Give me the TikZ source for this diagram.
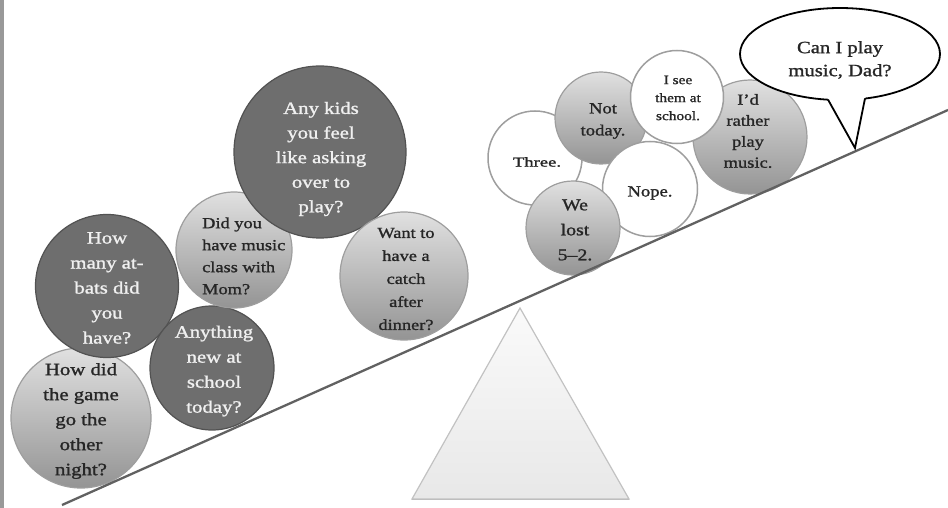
\documentclass[tikz,border=0pt]{standalone}
\usepackage{fontspec}
\setmainfont{Liberation Serif}[FakeStretch=1.2,FakeBold=1.3]
\usetikzlibrary{shapes.geometric}
\newcommand\fsz[2]{\fontsize{#1}{#2}\selectfont}
\tikzset{
  lightc/.style={circle, draw=black!38, line width=1.2pt, top color=black!12, bottom color=black!42, inner sep=0pt, minimum size=#1},
  darkc/.style={circle, draw=black!68, line width=1.2pt, fill=black!57, inner sep=0pt, minimum size=#1},
  whitec/.style={circle, draw=black!38, line width=1.5pt, fill=white, inner sep=0pt, minimum size=#1},
  dtxt/.style={align=center, text=black!6, inner sep=0pt},
  ltxt/.style={align=center, text=black!85, inner sep=0pt},
  beamline/.style={line width=2.3pt, black!62},
}
\begin{document}
\begin{tikzpicture}[x=1pt,y=-1pt]
\useasboundingbox (0,0) rectangle (948,508);
% left border bar
\fill[black!40] (0,0) rectangle (4,508);

% fulcrum
\coordinate (ta) at (520,308);
\coordinate (tl) at (412,499);
\coordinate (tr) at (629,499);
\draw[black!30, line width=2.6pt] (tl) -- (tr);
\draw[black!24, line width=1.2pt, top color=black!2, bottom color=black!9] (ta) -- (tl) -- (tr) -- cycle;

% left side circles
\node[lightc=140pt] (c1) at (81,418) {};
\node[ltxt, font=\fsz{17.3}{25}] (t1) at (81,421) {How did\\the game\\go the\\other\\night?};
\node[darkc=143pt] (c2) at (107,286) {};
\node[dtxt, font=\fsz{17.3}{25}] (t2) at (107,288) {How\\many at-\\bats did\\you\\have?};
\node[darkc=124pt] (c3) at (212,368) {};
\node[dtxt, font=\fsz{17.3}{25}] (t3) at (214,371) {Anything\\new at\\school\\today?};
\node[lightc=116pt] (c4) at (234,250) {};
\node[ltxt, align=left, anchor=west, font=\fsz{15.3}{22}] (t4) at (202,256) {Did you\\have music\\class with\\Mom?};
\node[darkc=172pt] (c5) at (320,152) {};
\node[dtxt, font=\fsz{17.3}{24.6}] (t5) at (321,159) {Any kids\\you feel\\like asking\\over to\\play?};
\node[lightc=128pt] (c6) at (404,276) {};
\node[ltxt, font=\fsz{15.3}{23}] (t6) at (406,279) {Want to\\have a\\catch\\after\\dinner?};

% right side circles
\node[whitec=94pt] (c7) at (535,158) {};
\node[ltxt, font=\fsz{13.5}{16}] (t7) at (537,162) {\scalebox{1.15}[1]{Three.}};
\node[lightc=92pt] (c8) at (601,118) {};
\node[ltxt, font=\fsz{15.5}{22}] (t8) at (603,121) {Not\\today.};
\node[whitec=95pt] (c11) at (650,189) {};
\node[ltxt, font=\fsz{15.5}{18}] (t11) at (650,193) {Nope.};
\node[lightc=94pt] (c12) at (573,228) {};
\node[ltxt, font=\fsz{16.5}{25}] (t12) at (575,230) {We\\lost\\5–2.};
\node[lightc=114pt] (c10) at (750,137) {};
\node[ltxt, font=\fsz{15.4}{21}] (t10) at (748,131) {I’d\\rather\\play\\music.};
\node[whitec=93pt] (c9) at (677,97) {};
\node[ltxt, font=\fsz{12.8}{18}] (t9) at (678,98) {I see\\them at\\school.};

% beam
\coordinate (bl) at (62,505);
\coordinate (br) at (948,110);
\draw[beamline] (bl) -- (br);

% speech bubble
\node[ellipse, draw=black, line width=1.8pt, fill=white, minimum width=200pt, minimum height=92pt, inner sep=0pt] (sp) at (840,54) {};
\coordinate (s1) at (828,99.6);
\coordinate (st) at (855,148);
\coordinate (s2) at (865,98.4);
\coordinate (s1i) at (826,92);
\coordinate (s2i) at (868,90);
\fill[white] (s1i) -- (s1) -- (st) -- (s2) -- (s2i) -- cycle;
\draw[line width=1.8pt, line join=miter] (s1) -- (st) -- (s2);
\node[ltxt, font=\fsz{17.2}{23}] (spt) at (840,60) {Can I play\\music, Dad?};
\end{tikzpicture}
\end{document}
